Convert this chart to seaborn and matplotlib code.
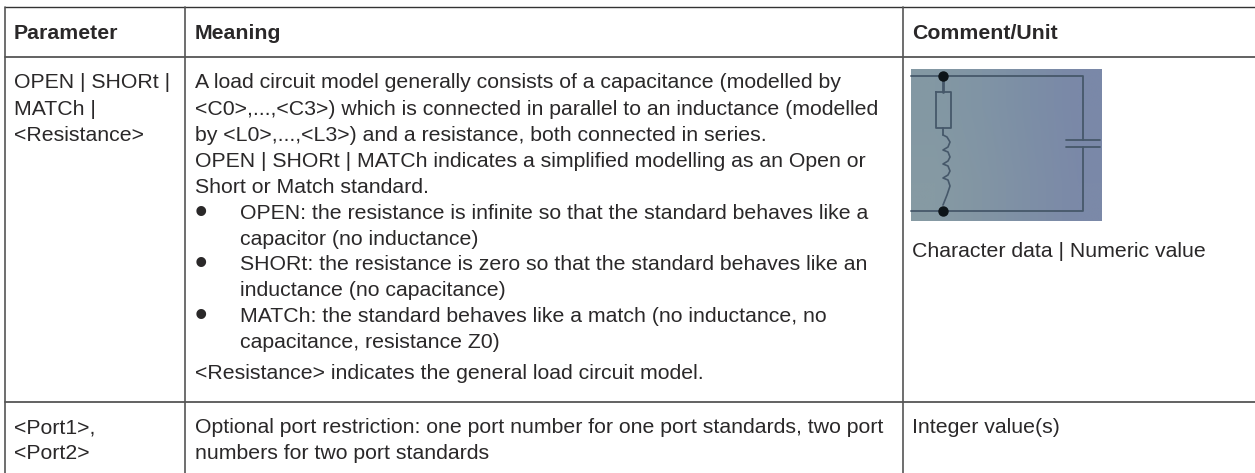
import numpy as np
import matplotlib
matplotlib.use('Agg')
import matplotlib.pyplot as plt
import seaborn as sns

header = ["Parameter", "Meaning", "Comment/Unit"]
param_lines = ["OPEN | SHORt |", "MATCh |", "<Resistance>"]
meaning_lines = [
    "A load circuit model generally consists of a capacitance (modelled by",
    "<C0>,...,<C3>) which is connected in parallel to an inductance (modelled",
    "by <L0>,...,<L3>) and a resistance, both connected in series.",
    "OPEN | SHORt | MATCh indicates a simplified modelling as an Open or",
    "Short or Match standard.",
]
bullets = [
    ["OPEN: the resistance is infinite so that the standard behaves like a", "capacitor (no inductance)"],
    ["SHORt: the resistance is zero so that the standard behaves like an", "inductance (no capacitance)"],
    ["MATCh: the standard behaves like a match (no inductance, no", "capacitance, resistance Z0)"],
]
meaning_end = "<Resistance> indicates the general load circuit model."
comment_1 = "Character data | Numeric value"
param_2 = ["<Port1>,", "<Port2>"]
meaning_2 = [
    "Optional port restriction: one port number for one port standards, two port",
    "numbers for two port standards",
]
comment_2 = "Integer value(s)"

# colours of the blurry circuit picture, left to right
photo_top = [(131, 152, 163), (128, 148, 165), (124, 142, 166), (122, 136, 168)]
photo_bottom = [(134, 154, 163), (130, 149, 164), (126, 143, 166), (123, 137, 168)]

sns.set_theme(style="white")
plt.rcParams['font.family'] = ['Liberation Sans', 'DejaVu Sans']

fig = plt.figure(figsize=(12.55, 4.73), dpi=100)
ax = fig.add_axes([0, 0, 1, 1])
ax.axis('off')

ink = '#2a2829'
rule = '#555555'
size = 15.3

# table rules
ax.plot([5, 1255], [7.5, 7.5], color='#333333', lw=1.0)
ax.plot([5, 1255], [57, 57], color=rule, lw=1.3)
ax.plot([5, 1255], [401.5, 401.5], color=rule, lw=1.3)
for x in [5, 184.5, 902.5]:
    ax.plot([x, x], [7, 473], color=rule, lw=1.2)

for x, s in zip([14, 195, 912], header):
    ax.text(x, 39, s, fontsize=size, fontweight='bold', color=ink)

for i, s in enumerate(param_lines):
    ax.text(14, 88.5 + i * 26, s, fontsize=size, color=ink)
for i, s in enumerate(meaning_lines):
    ax.text(195, 88.5 + i * 26, s, fontsize=size, color=ink)

y = 219
for lines in bullets:
    ax.text(200.5, y + 3.8, "\u2022", fontsize=26, color=ink, ha='center')
    for s in lines:
        ax.text(240, y, s, fontsize=size, color=ink)
        y += 25.7
ax.text(195, 379, meaning_end, fontsize=size, color=ink)

ax.text(912, 257, comment_1, fontsize=size, color=ink)
for i, s in enumerate(param_2):
    ax.text(14, 433 + i * 26, s, fontsize=size, color=ink)
for i, s in enumerate(meaning_2):
    ax.text(195, 433 + i * 26, s, fontsize=size, color=ink)
ax.text(912, 433, comment_2, fontsize=size, color=ink)

# circuit picture
photo = np.array([photo_top, photo_bottom], dtype=float) / 255
ax.imshow(photo, extent=(911, 1102, 221, 70), aspect='auto', interpolation='bilinear', zorder=1)
ax.set_xlim(0, 1255)
ax.set_ylim(473, 0)
wire = '#46586a'
ax.plot([911, 1083, 1083], [76.5, 76.5, 140], color=wire, lw=1.3, zorder=2)
ax.plot([1083, 1083, 911], [147, 211, 211], color=wire, lw=1.3, zorder=2)
ax.plot([1066, 1100], [140, 140], color=wire, lw=1.3, zorder=2)
ax.plot([1066, 1100], [147, 147], color=wire, lw=1.3, zorder=2)
ax.plot([943, 943], [76, 92], color=wire, lw=2.0, zorder=2)
ax.plot([936, 951, 951, 936, 936], [92, 92, 128, 128, 92], color=wire, lw=1.3, zorder=2)
ax.plot([943, 943], [128, 135], color=wire, lw=1.3, zorder=2)
coil_x = [943, 947, 950, 948, 943, 948, 950, 948, 943, 948, 950, 948, 943, 948, 950, 947, 943]
coil_y = [135, 137, 142, 147, 150, 152, 157, 161, 164, 166, 171, 175, 178, 180, 186, 195, 205]
ax.plot(coil_x, coil_y, color=wire, lw=1.2, zorder=2)
ax.plot([943, 943], [76.5, 211], 'o', color='#0d1418', ms=6.5, zorder=3)

fig.savefig('out.png', dpi=100)
